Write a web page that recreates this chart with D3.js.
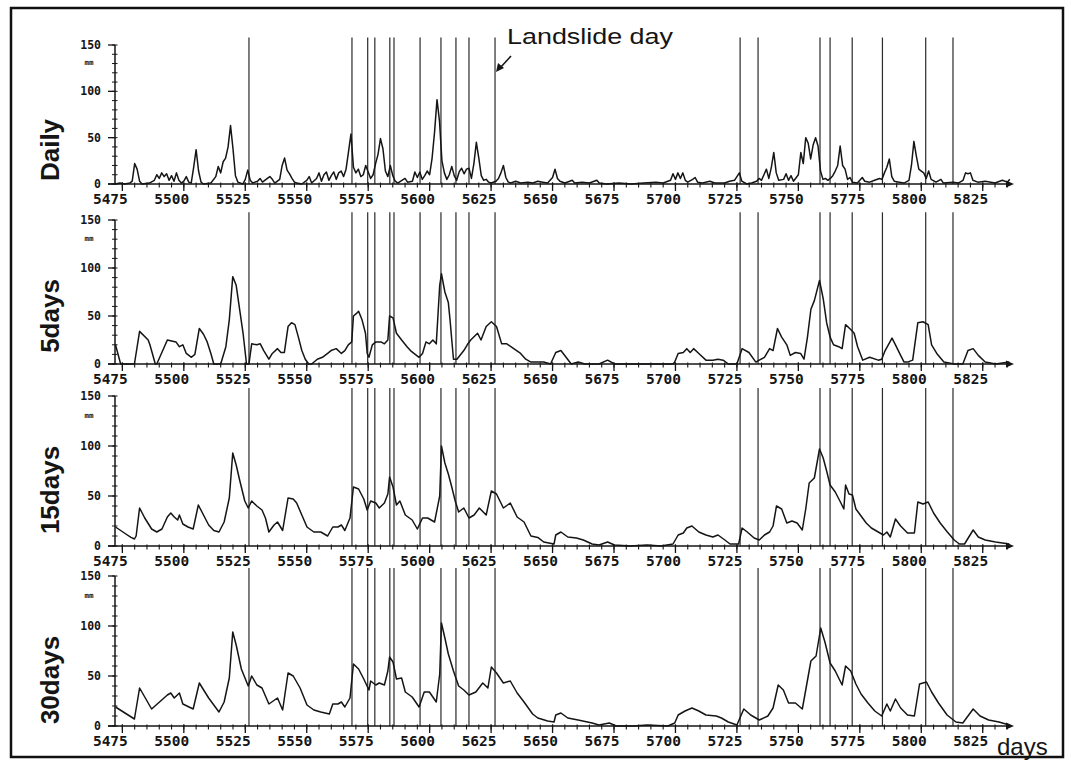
<!DOCTYPE html>
<html><head><meta charset="utf-8">
<script src="https://cdn.jsdelivr.net/npm/d3@7"></script>
<style>body{margin:0;background:#fff}</style>
</head><body>
<svg id="c" width="1071" height="760"></svg>
<script>
// ---------- data ----------
const xTickValues = [5475,5500,5525,5550,5575,5600,5625,5650,5675,5700,5725,5750,5775,5800,5825];
const yTickValues = [0,50,100,150];
const panelNames = ["Daily","5days","15days","30days"];
const landslideDays = [5526.5,5568.4,5574.8,5577.7,5583.8,5585.5,5596.1,5604.6,5610.7,5616,5626.6,
  5726.3,5733.6,5758.8,5762.9,5771.9,5784.2,5801.8,5812.9];

const dailyDays = [5472,5474,5476,5478,5479,5480,5481,5482,5483,5486,5488,5489,5490,5491,5492,5493,5494,5495,5496,5497,5498,5499,5500,5501,5502,5503,5504,5505,5506,5507,5508,5511,5513,5514,5515,5516,5517,5518,5519,5520,5521,5522,5524,5525,5526,5527,5528,5530,5531,5532,5534,5535,5536,5537,5539,5540,5541,5542,5543,5544,5545,5546,5548,5550,5551,5552,5554,5555,5556,5557,5558,5559,5560,5561,5562,5563,5564,5565,5566,5567,5568,5569,5570,5571,5572,5573,5574,5575,5576,5577,5578,5579,5580,5581,5582,5583,5584,5585,5586,5587,5590,5591,5593,5594,5595,5596,5597,5598,5599,5600,5601,5602,5603,5604,5605,5606,5607,5608,5609,5610,5611,5612,5613,5614,5615,5616,5617,5618,5619,5620,5621,5622,5623,5624,5625,5627,5628,5629,5630,5631,5632,5633,5635,5637,5640,5642,5644,5646,5648,5649,5650,5651,5652,5653,5655,5657,5658,5659,5662,5665,5668,5669,5672,5677,5682,5687,5692,5695,5698,5699,5700,5701,5702,5703,5704,5705,5707,5708,5709,5711,5714,5716,5720,5722,5724,5725,5726,5727,5729,5731,5733,5734,5735,5736,5737,5738,5739,5740,5741,5742,5744,5745,5746,5747,5748,5750,5751,5752,5753,5754,5755,5756,5757,5758,5759,5760,5761,5762,5763,5764,5765,5766,5767,5768,5769,5770,5771,5772,5774,5776,5777,5779,5781,5783,5784,5785,5786,5787,5788,5789,5791,5793,5795,5796,5797,5798,5799,5800,5801,5802,5803,5804,5806,5808,5809,5813,5815,5817,5818,5819,5820,5821,5823,5826,5830,5833,5835,5836];
const dailyMm = [0,1,0,1,3,22,16,3,0,1,4,10,6,12,8,11,4,9,3,12,4,1,3,8,2,1,18,37,14,2,0,1,8,19,12,24,28,40,63,38,9,2,0,5,15,4,1,3,6,2,6,8,5,1,5,20,28,15,11,6,2,1,0,4,8,1,6,12,3,10,13,4,9,13,5,12,14,8,16,35,54,18,12,16,8,10,20,13,6,10,22,32,49,38,14,8,20,9,3,1,6,2,3,13,7,13,5,9,14,10,28,56,91,68,25,12,5,10,19,9,4,13,17,11,16,17,6,22,45,28,9,4,5,2,1,3,6,12,20,7,2,1,3,1,2,1,3,2,1,4,7,16,6,3,1,3,4,1,2,1,4,1,0,1,0,1,2,1,4,11,5,12,6,12,4,2,5,7,2,1,3,1,1,3,4,8,12,3,0,1,3,6,4,10,16,6,18,34,12,4,5,11,4,9,3,10,34,22,50,44,27,42,50,41,14,5,6,4,6,9,14,20,41,20,16,5,7,2,1,7,3,2,4,6,5,12,18,27,8,3,2,1,4,20,46,30,16,14,12,6,14,5,2,5,1,2,1,4,12,11,12,4,2,3,1,4,2,5];

const fiveDays = [5472.2,5474.3,5479.9,5482,5485.5,5486.2,5488.4,5489,5493.3,5496.8,5498.2,5499.6,5501,5503.1,5504.5,5506.3,5508,5509.5,5511,5512.2,5515,5517.1,5518.5,5519.9,5521.3,5522.7,5524.1,5525.5,5526.5,5527.6,5529.7,5531.1,5532.5,5534.6,5536,5538.1,5539.5,5540.9,5542.4,5543.8,5545.2,5546.6,5548,5549.4,5550.8,5552,5554.3,5556.4,5558.5,5559.9,5562,5564.1,5565.5,5566.9,5568.3,5569,5570.4,5571.1,5572.5,5573.9,5574.6,5575.3,5576.7,5578.1,5580.2,5581.6,5583,5583.7,5585.1,5586.5,5588.6,5590.8,5592.2,5593.6,5595.7,5597.1,5598.5,5599.9,5601.3,5602.7,5604.1,5604.8,5606.2,5607.6,5608.3,5609,5609.7,5611.1,5613.9,5615.3,5616.7,5619.5,5620.9,5623,5625.1,5627.2,5629.3,5631.4,5634.2,5637,5639.1,5641.2,5646.4,5649.2,5651.3,5653.4,5655.5,5657.6,5660.4,5663.2,5668.9,5672.4,5675.2,5699,5699.7,5701.1,5703.2,5704.6,5706,5707.4,5709.5,5712.4,5715.2,5717.3,5719.4,5721.5,5725,5727.1,5729.9,5732.7,5734.1,5736.2,5738.3,5739.7,5741.5,5743.2,5745.3,5746.7,5748.8,5750.9,5752.3,5753.7,5755.1,5756.5,5758.6,5760.1,5761.5,5762.9,5764.3,5766.4,5767.8,5769.2,5771.3,5772.7,5774.1,5776.2,5779,5782.5,5783.9,5785.3,5788.1,5789.5,5791.6,5793,5794.4,5796.5,5798.6,5800.7,5802.8,5804.2,5806.3,5809.2,5813.4,5816.9,5819,5821.1,5823.2,5826,5830.2,5835.8];
const fiveMm = [20,0,0,34,25,20,0,0,25,23,18,20,11,7,10,37,31,23,11,0,0,18,46,91,82,57,32,0,0,21,20,21,14,5,11,16,12,12,39,43,41,28,14,5,0,0,5,7,11,14,16,11,14,20,23,50,53,55,46,32,11,7,20,23,23,21,25,50,48,32,25,18,14,11,7,11,23,21,25,21,82,94,75,64,46,25,5,5,14,20,25,32,25,39,44,39,21,21,16,11,5,2,2,0,12,14,7,0,2,0,0,4,0,0,2,11,12,16,12,16,11,4,4,5,4,0,0,16,12,2,4,7,16,14,37,28,20,9,12,11,5,28,57,66,87,68,43,28,20,18,16,41,36,32,18,4,7,4,5,14,27,20,9,2,2,4,43,44,41,20,11,2,0,0,14,16,9,2,0,2];

const fifteenDays = [5472.2,5474.3,5476.4,5478.5,5479.9,5480.6,5482,5484.1,5486.9,5489,5491.1,5493.3,5494.7,5496.1,5497.5,5498.2,5499.6,5501.7,5503.8,5505.9,5508,5510.1,5512.2,5514.3,5516.4,5518.5,5519.9,5521.3,5522.7,5524.8,5526.2,5527.6,5529.7,5531.8,5533.2,5534.6,5536.7,5538.1,5540.2,5542.4,5544.5,5545.9,5548,5550.1,5552.9,5555.7,5558.5,5560.6,5562.7,5564.1,5565.5,5567.6,5569,5571.1,5573.2,5574.6,5576,5578.1,5579.5,5581.6,5583,5583.7,5585.1,5586.5,5587.9,5590.1,5592.9,5595,5597.1,5599.2,5602,5604.1,5604.8,5606.2,5607.6,5609,5610.4,5611.8,5613.9,5616,5618.1,5620.2,5623,5625.1,5627.2,5630,5632.8,5635.6,5638.4,5641.2,5644,5646.4,5650.6,5651.3,5653.4,5656.2,5659.7,5662.5,5666.1,5668.9,5672.4,5675.2,5681.5,5688.5,5694.1,5699,5701.1,5703.2,5704.6,5706.7,5709.5,5712.4,5715.2,5717.3,5720.1,5722.2,5725.7,5727.1,5729.2,5732,5734.1,5736.2,5738.3,5739.7,5741.1,5743.2,5745.3,5747.4,5749.5,5751.6,5753,5754.4,5756.5,5758.6,5760.1,5761.5,5762.9,5765,5767.1,5768.5,5769.2,5770.6,5772,5773.4,5775.5,5777.6,5779.7,5782.5,5784.6,5786,5787.4,5789.5,5791.6,5794.4,5797.2,5798.6,5800.7,5802.8,5805,5807.7,5810.6,5813.4,5815.5,5817.6,5821.1,5823.2,5826,5830.2,5835.8];
const fifteenMm = [19,15.5,12,8.6,7,10,38,28,17,14,17,29,33,29,26,31,22,19,17,41,31,21,15.5,14,24,48,93,81,66,45,38,45,40,36,28,14,21,24,15.5,48,47,43,31,19,14,14,10,19,19,21,15.5,28,59,57,47,36,45,43,38,43,52,69,59,41,45,31,26,17,28,28,24,50,100,83,72,59,45,34,38,28,31,38,31,55,52,38,43,29,24,10,8.6,4,2,11,14,9,8,6,2,1,4,1,0,1,0,2,11,13,18,20,14,11,9,11,6,2,2,18,14,8,6,11,14,20,40,37,23,25,23,16,37,63,68,97,88,75,61,54,44,37,61,52,51,37,30,23,18,14,11,14,9,27,20,13,13,44,42,44,33,23,14,6,2,2,16,9,6,4,2];

const thirtyDays = [5472.2,5479.9,5482,5486.9,5493.3,5494.7,5496.1,5498.2,5499.6,5503.8,5506.3,5510.1,5514.3,5516.4,5518.5,5519.9,5521.3,5523.4,5526.2,5527.6,5529.7,5531.8,5534.6,5538.1,5540.2,5542.4,5544.5,5547.3,5550.1,5552.9,5555.7,5559.2,5560.6,5562.7,5564.1,5565.5,5567.6,5569,5571.1,5573.2,5575.3,5576,5578.1,5579.5,5581.6,5583,5583.7,5585.1,5586.5,5588.6,5590.1,5592.9,5595.7,5597.8,5599.9,5602.7,5604.1,5604.8,5606.2,5607.6,5609.7,5611.8,5613.9,5616,5618.8,5621.6,5623.7,5625.1,5627.2,5630,5632.8,5635.6,5638.4,5641.9,5644,5648,5650.6,5651.3,5653.4,5656.2,5660.4,5666.1,5668.9,5673.1,5675.9,5682.9,5688.5,5696.9,5699.7,5701.1,5703.9,5706.7,5709.5,5712.4,5716.6,5718.7,5721.5,5725,5727.8,5730.6,5734.1,5737.6,5739.7,5741.8,5743.9,5746,5748.8,5751.6,5753,5755.1,5757.2,5759.1,5760.8,5762.9,5765,5767.8,5769.2,5771.3,5773.4,5775.5,5778.3,5781.1,5783.9,5786,5787.4,5789.5,5791.6,5794.4,5797.2,5799.3,5802.1,5804.2,5807,5810.5,5814.1,5816.9,5821.1,5823.9,5827.4,5831.6,5835.8];
const thirtyMm = [19,7,38,17,31,33,28,33,22,17,43,28,14,24,48,94,81,57,40,50,41,38,22,28,16,53,50,38,21,16,14,12,22,22,24,19,28,62,57,47,36,45,41,43,41,55,69,64,47,48,34,29,19,34,34,24,52,103,88,72,55,40,36,31,34,43,38,59,53,43,45,33,24,12,8,5,4,11,13,8,6,3,1,3,0,0,1,0,3,11,15,18,15,11,10,8,4,1,17,11,6,10,18,41,36,23,23,17,36,65,70,98,84,63,55,41,60,55,42,32,23,15,10,22,15,27,18,11,10,42,44,34,23,11,4,3,17,10,6,4,1];

// ---------- layout ----------
const svg = d3.select("#c");
const x = d3.scaleLinear().domain([5472, 5836.5]).range([115, 1011]);
const panelGeom = [
  {y0:184, y150:45,  labelY:150},
  {y0:364, y150:220, labelY:316},
  {y0:546, y150:396, labelY:490},
  {y0:726, y150:576, labelY:680}
];
const seriesDays = [dailyDays, fiveDays, fifteenDays, thirtyDays];
const seriesMm = [dailyMm, fiveMm, fifteenMm, thirtyMm];

// frame
svg.append("rect").attr("x",11).attr("y",8).attr("width",1052).attr("height",749)
  .attr("fill","none").attr("stroke","#111").attr("stroke-width",2.5);

const monoFont = "'DejaVu Sans Mono', monospace";
const ink = "#151515";

panelNames.forEach((name, i) => {
  const g = panelGeom[i];
  const y = d3.scaleLinear().domain([0,150]).range([g.y0, g.y150]);
  const p = svg.append("g");

  // landslide day lines
  p.selectAll("line.ls").data(landslideDays).join("line")
    .attr("x1", d=>x(d)).attr("x2", d=>x(d))
    .attr("y1", y(0)).attr("y2", y(158))
    .attr("stroke", "#2a2a2a").attr("stroke-width", 1.2);

  // x axis line with arrow
  const xe = x(5836.5);
  p.append("line").attr("x1", 108).attr("x2", xe).attr("y1", y(0)).attr("y2", y(0))
    .attr("stroke", ink).attr("stroke-width", 1.6);
  p.append("path").attr("d", `M${xe+3},${y(0)} L${xe-5},${y(0)-3.5} L${xe-5},${y(0)+3.5} Z`).attr("fill", ink);

  // minor x ticks (every 5 days)
  const minor = d3.range(5475, 5836, 5);
  p.selectAll("line.mx").data(minor).join("line")
    .attr("x1", d=>x(d)).attr("x2", d=>x(d))
    .attr("y1", y(0)-1.5).attr("y2", y(0)+3.5)
    .attr("stroke", ink).attr("stroke-width", 1.1);
  // major x ticks
  p.selectAll("line.Mx").data(xTickValues).join("line")
    .attr("x1", d=>x(d)).attr("x2", d=>x(d))
    .attr("y1", y(0)-1.5).attr("y2", y(0)+7)
    .attr("stroke", ink).attr("stroke-width", 1.3);
  p.selectAll("text.xl").data(xTickValues).join("text")
    .attr("x", d=>x(d)-12).attr("y", y(0)+20)
    .attr("text-anchor","middle").attr("font-family", monoFont).attr("font-weight","bold")
    .attr("font-size", 14.5).attr("fill", ink).text(d=>d);

  // y axis
  p.append("line").attr("x1", 115).attr("x2", 115).attr("y1", y(0)).attr("y2", y(150))
    .attr("stroke", ink).attr("stroke-width", 1.5);
  p.selectAll("line.my").data(d3.range(0,151,10)).join("line")
    .attr("x1", 112).attr("x2", 117.5).attr("y1", d=>y(d)).attr("y2", d=>y(d))
    .attr("stroke", ink).attr("stroke-width", 1);
  p.selectAll("line.My").data(yTickValues).join("line")
    .attr("x1", 108).attr("x2", 115).attr("y1", d=>y(d)).attr("y2", d=>y(d))
    .attr("stroke", ink).attr("stroke-width", 1.3);
  p.selectAll("text.yl").data(yTickValues).join("text")
    .attr("x", 101).attr("y", d=>y(d)).attr("dy","0.36em")
    .attr("text-anchor","end").attr("font-family", monoFont).attr("font-weight","bold")
    .attr("font-size", 11.5).attr("fill", ink).text(d=>d);
  p.append("text").attr("x", 89).attr("y", y(128))
    .attr("text-anchor","middle").attr("font-family", monoFont).attr("font-weight","bold")
    .attr("font-size", 7.5).attr("fill", ink).text("mm");

  // panel label
  p.append("text").attr("transform", `translate(59,${g.labelY}) rotate(-90)`)
    .attr("text-anchor","middle").attr("font-family","'Liberation Sans', Arial, sans-serif")
    .attr("font-weight","bold").attr("font-size", 26).attr("fill", ink).text(name);

  // data line
  const pts = d3.zip(seriesDays[i], seriesMm[i]);
  p.append("path").datum(pts)
    .attr("d", d3.line().x(d=>x(d[0])).y(d=>y(d[1])))
    .attr("fill","none").attr("stroke", ink).attr("stroke-width", 1.5).attr("stroke-linejoin","round");
});

// annotation
svg.append("text").attr("x", 507).attr("y", 44)
  .attr("font-family","'Liberation Sans', Arial, sans-serif").attr("font-size", 22)
  .attr("textLength", 166).attr("lengthAdjust","spacingAndGlyphs")
  .attr("fill", ink).text("Landslide day");
svg.append("line").attr("x1", 511).attr("y1", 56).attr("x2", 500).attr("y2", 68)
  .attr("stroke", ink).attr("stroke-width", 1.6);
svg.append("path").attr("d", "M496,72 L498,63 L504,68 Z").attr("fill", ink);

svg.append("text").attr("x", 997).attr("y", 755)
  .attr("font-family","'Liberation Sans', Arial, sans-serif").attr("font-size", 24)
  .attr("fill", ink).text("days");
</script>
</body></html>
